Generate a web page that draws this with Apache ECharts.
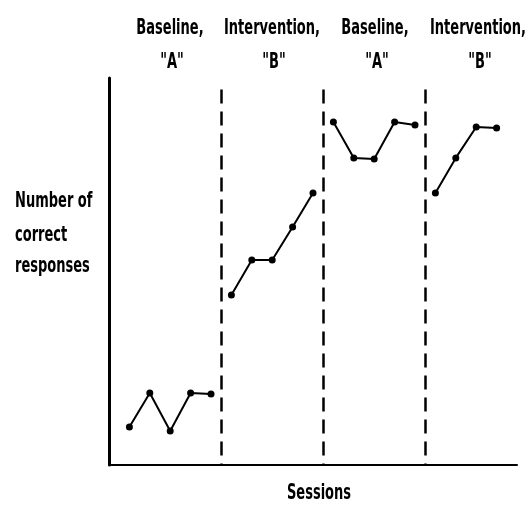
<!DOCTYPE html>
<html>
<head>
<meta charset="utf-8">
<script src="https://cdn.jsdelivr.net/npm/echarts@6/dist/echarts.min.js"></script>
<style>html,body{margin:0;padding:0;background:#fff}#c{width:526px;height:505px}</style>
</head>
<body>
<div id="c"></div>
<script>
// Sessions per phase
const sessionsA1 = [1, 2, 3, 4, 5];
const sessionsB1 = [6, 7, 8, 9, 10];
const sessionsA2 = [11, 12, 13, 14, 15];
const sessionsB2 = [16, 17, 18, 19];
// Number of correct responses (unlabelled scale, estimated)
const valuesA1 = [1.96, 3.72, 1.76, 3.72, 3.67];
const valuesB1 = [8.79, 10.59, 10.59, 12.3, 14.06];
const valuesA2 = [17.73, 15.87, 15.81, 17.73, 17.57];
const valuesB2 = [14.06, 15.87, 17.47, 17.42];
// Phase change points and phase labels
const phaseChanges = [5.5, 10.5, 15.5];
const phaseTitles = ['Baseline,', 'Intervention,', 'Baseline,', 'Intervention,'];
const phaseLetters = ['"A"', '"B"', '"A"', '"B"'];
const yTitleLines = ['Number of', 'correct', 'responses'];
const xTitle = 'Sessions';

const FONT = '"DejaVu Sans", sans-serif';
const TXT = 'bold 21px ' + FONT;
const SX = 0.62;
const pair = (xs, ys) => xs.map((x, i) => [x, ys[i]]);
const phaseLineTop = 19.4;

const lineBase = {
  type: 'line',
  symbol: 'circle',
  symbolSize: 7,
  itemStyle: { color: '#000' },
  lineStyle: { color: '#000', width: 2 },
  silent: true,
  animation: false
};

const titleX = [170, 272, 375, 478];
const graphics = [];
phaseTitles.forEach((t, i) => {
  graphics.push({ type: 'text', x: titleX[i], y: 29, scaleX: SX,
    style: { text: t, font: TXT, fill: '#000', textAlign: 'center', textVerticalAlign: 'middle' } });
  graphics.push({ type: 'text', x: titleX[i] + 2, y: 63, scaleX: SX,
    style: { text: phaseLetters[i], font: TXT, fill: '#000', textAlign: 'center', textVerticalAlign: 'middle' } });
});
const yTitleY = [202, 236, 267];
yTitleLines.forEach((t, i) => {
  graphics.push({ type: 'text', x: 15, y: yTitleY[i], scaleX: SX,
    style: { text: t, font: TXT, fill: '#000', textAlign: 'left', textVerticalAlign: 'middle' } });
});
graphics.push({ type: 'text', x: 319, y: 494, scaleX: SX,
  style: { text: xTitle, font: TXT, fill: '#000', textAlign: 'center', textVerticalAlign: 'middle' } });

const chart = echarts.init(document.getElementById('c'));
chart.setOption({
  animation: false,
  grid: { left: 109, right: 9, top: 78, bottom: 40 },
  xAxis: {
    type: 'value', min: 0, max: 20,
    axisLine: { lineStyle: { color: '#000', width: 2 } },
    axisTick: { show: false }, axisLabel: { show: false }, splitLine: { show: false }
  },
  yAxis: {
    type: 'value', min: 0, max: 20,
    axisLine: { show: true, lineStyle: { color: '#000', width: 3 } },
    axisTick: { show: false }, axisLabel: { show: false }, splitLine: { show: false }
  },
  graphic: graphics,
  series: [
    Object.assign({}, lineBase, {
      data: pair(sessionsA1, valuesA1),
      markLine: {
        silent: true, symbol: 'none', label: { show: false },
        lineStyle: { color: '#000', width: 2.5, type: [14, 8] },
        data: phaseChanges.map(x => [{ coord: [x, phaseLineTop] }, { coord: [x, 0] }])
      }
    }),
    Object.assign({}, lineBase, { data: pair(sessionsB1, valuesB1) }),
    Object.assign({}, lineBase, { data: pair(sessionsA2, valuesA2) }),
    Object.assign({}, lineBase, { data: pair(sessionsB2, valuesB2) })
  ]
});
</script>
</body>
</html>
